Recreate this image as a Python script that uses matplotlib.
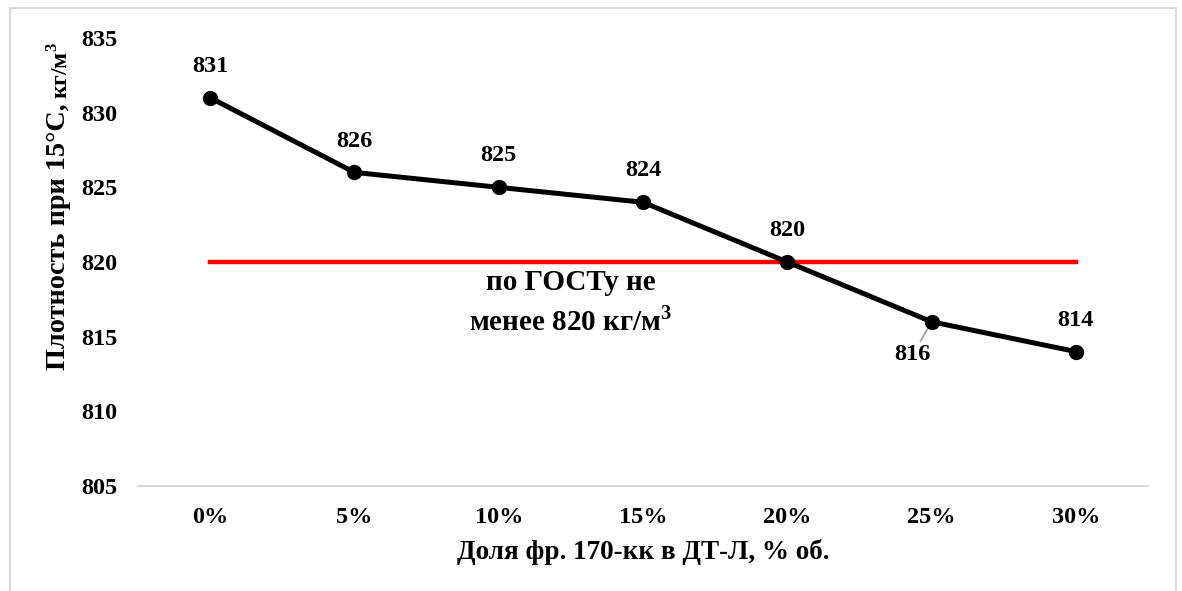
import numpy as np
import matplotlib.pyplot as plt
from matplotlib.patches import Rectangle

plt.rcParams['font.family'] = ['Liberation Serif', 'DejaVu Serif']
plt.rcParams['font.weight'] = 'bold'
plt.rcParams['mathtext.fontset'] = 'custom'
plt.rcParams['mathtext.rm'] = 'Liberation Serif:bold'
plt.rcParams['mathtext.bf'] = 'Liberation Serif:bold'

# data
categories = ['0%', '5%', '10%', '15%', '20%', '25%', '30%']
density = [831, 826, 825, 824, 820, 816, 814]
gost_limit = 820

x = np.arange(len(categories))

fig = plt.figure(figsize=(11.82, 5.91), dpi=100)
ax = fig.add_axes([138/1182, 1 - 486/591, (1148 - 138)/1182, (486 - 38)/591])

# frame around the whole chart
fig.patches.append(Rectangle((10/1182, -0.01), 1166/1182, 1 - 8/591 + 0.01,
                             transform=fig.transFigure, fill=False,
                             edgecolor='#d9d9d9', linewidth=1.5))

ax.plot(x, [gost_limit]*len(x), color='#ff0000', linewidth=3.2, zorder=2)
ax.plot(x, density, color='black', linewidth=3.6, marker='o', markersize=10, zorder=3)

# data labels
for i, v in enumerate(density):
    if i == 5:
        ax.annotate(str(v), xy=(x[i], v), xytext=(x[i] - 0.13, v - 2.2),
                    ha='center', va='center', fontsize=17.5, fontweight='bold',
                    arrowprops=dict(arrowstyle='-', color='#a6a6a6', lw=1.3,
                                    shrinkA=0, shrinkB=0), zorder=2.5)
    else:
        ax.text(x[i], v + 2.1, str(v), ha='center', va='center',
                fontsize=17.5, fontweight='bold')

ax.text(2.5, 818.6, 'по ГОСТу не', ha='center', va='center', fontsize=21, fontweight='bold')
ax.text(2.5, 816.0, 'менее 820 кг/м$^{3}$', ha='center', va='center', fontsize=21, fontweight='bold')

ax.set_xlim(-0.5, len(x) - 0.5)
ax.set_ylim(805, 835)
ax.set_yticks(np.arange(805, 836, 5))
ax.set_xticks(x)
ax.set_xticklabels(categories)
ax.tick_params(axis='both', length=0, labelsize=17.5)
ax.tick_params(axis='x', pad=15)
ax.tick_params(axis='y', pad=15)
for lab in ax.get_xticklabels() + ax.get_yticklabels():
    lab.set_fontweight('bold')

for s in ['top', 'right', 'left']:
    ax.spines[s].set_visible(False)
ax.spines['bottom'].set_color('#d9d9d9')
ax.spines['bottom'].set_linewidth(1.5)

fig.text(643/1182, 1 - 552/591, 'Доля фр. 170-кк в ДТ-Л, % об.', ha='center', va='center',
         fontsize=19.5, fontweight='bold')
fig.text(59/1182, 1 - 370/591, 'Плотность при 15°С,', ha='center', va='bottom',
         rotation=90, fontsize=20.3, fontweight='bold')
fig.text(61/1182, 1 - 42/591, 'кг/м$^{3}$', ha='center', va='top',
         rotation=90, fontsize=17, fontweight='bold')

fig.savefig('out.png', dpi=100)
